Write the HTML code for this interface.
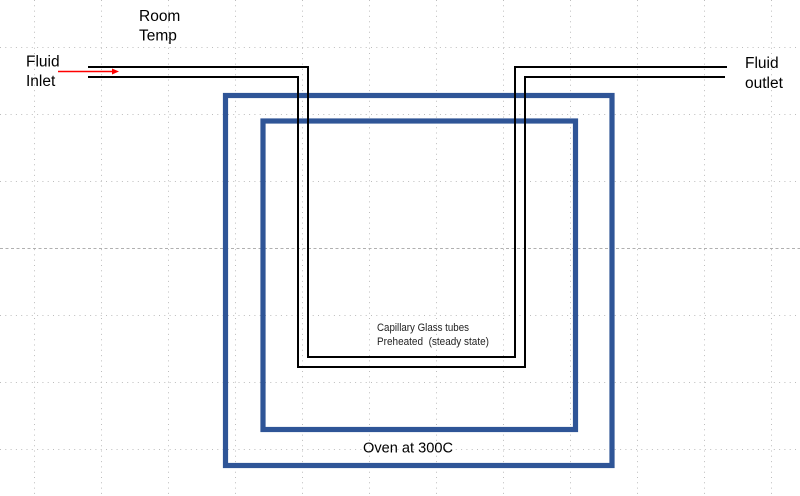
<!DOCTYPE html>
<html><head><meta charset="utf-8"><style>
html,body{margin:0;padding:0;background:#fff;}
svg{display:block;}
text{font-family:"Liberation Sans",sans-serif;}
</style></head><body>
<svg width="800" height="496" viewBox="0 0 800 496" xmlns="http://www.w3.org/2000/svg">
<g stroke="#bdbdbd" stroke-width="1" stroke-dasharray="1 4.3">
<line x1="34.5" y1="0" x2="34.5" y2="496"/>
<line x1="101.5" y1="0" x2="101.5" y2="496"/>
<line x1="168.5" y1="0" x2="168.5" y2="496"/>
<line x1="235.5" y1="0" x2="235.5" y2="496"/>
<line x1="302.5" y1="0" x2="302.5" y2="496"/>
<line x1="369.5" y1="0" x2="369.5" y2="496"/>
<line x1="436.5" y1="0" x2="436.5" y2="496"/>
<line x1="503.5" y1="0" x2="503.5" y2="496"/>
<line x1="570.5" y1="0" x2="570.5" y2="496"/>
<line x1="637.5" y1="0" x2="637.5" y2="496"/>
<line x1="704.5" y1="0" x2="704.5" y2="496"/>
<line x1="771.5" y1="0" x2="771.5" y2="496"/>
<line x1="0" y1="47.5" x2="800" y2="47.5"/>
<line x1="0" y1="114.5" x2="800" y2="114.5"/>
<line x1="0" y1="181.5" x2="800" y2="181.5"/>
<line x1="0" y1="315.5" x2="800" y2="315.5"/>
<line x1="0" y1="382.5" x2="800" y2="382.5"/>
<line x1="0" y1="449.5" x2="800" y2="449.5"/>
</g>
<line x1="0" y1="248.5" x2="800" y2="248.5" stroke="#b0b0b0" stroke-width="1" stroke-dasharray="3 2.5"/>

<rect x="225.5" y="95.5" width="386.5" height="370" fill="none" stroke="#2F5597" stroke-width="5.2"/>
<rect x="263" y="121" width="312.5" height="308.5" fill="none" stroke="#2F5597" stroke-width="5.2"/>

<g fill="none" stroke="#000" stroke-width="2">
<polyline points="88,67 308,67 308,357 515,357 515,67 727,67"/>
<polyline points="88,77 298,77 298,367 525,367 525,77 725,77"/>
</g>

<line x1="58" y1="71.5" x2="114" y2="71.5" stroke="#ff0000" stroke-width="1.6"/>
<polygon points="119,71.5 112,68.5 112,74.5" fill="#ff0000"/>

<text x="139" y="21" font-size="15.5" fill="#000">Room</text>
<text x="139" y="40.5" font-size="15.5" fill="#000">Temp</text>
<text x="26" y="66.5" font-size="15.5" fill="#000">Fluid</text>
<text x="26" y="86" font-size="15.5" fill="#000">Inlet</text>
<text x="745" y="68" font-size="15.5" fill="#000">Fluid</text>
<text x="745" y="88" font-size="15.5" fill="#000">outlet</text>
<text x="377" y="331" font-size="11" fill="#222" textLength="92" lengthAdjust="spacingAndGlyphs">Capillary Glass tubes</text>
<text x="377" y="345" font-size="11" fill="#222" textLength="112" lengthAdjust="spacingAndGlyphs" xml:space="preserve">Preheated  (steady state)</text>
<text x="363" y="452.5" font-size="15" fill="#000" textLength="90" lengthAdjust="spacingAndGlyphs">Oven at 300C</text>
</svg>
</body></html>
